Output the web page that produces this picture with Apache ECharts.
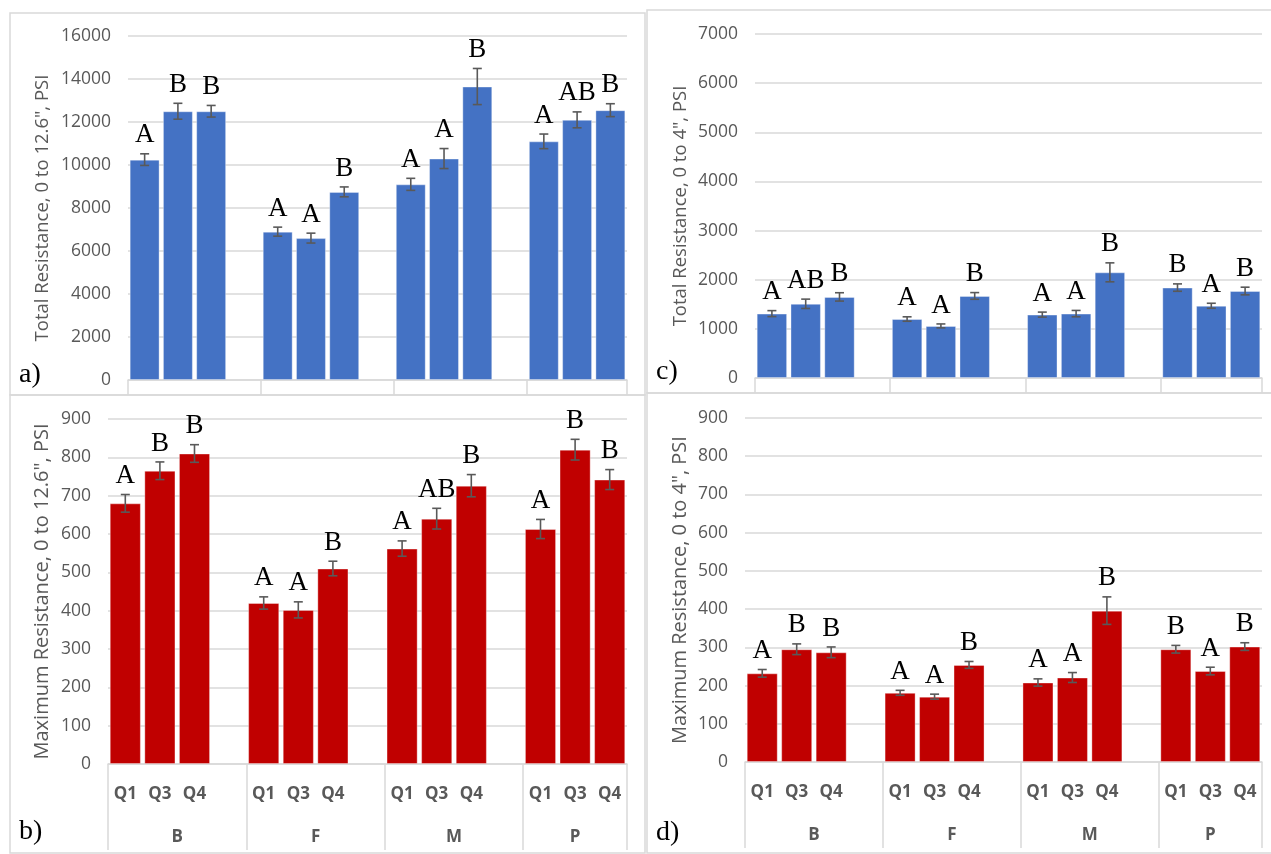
<!DOCTYPE html>
<html>
<head>
<meta charset="utf-8">
<script src="https://cdn.jsdelivr.net/npm/echarts@6/dist/echarts.min.js"></script>
<style>html,body{margin:0;padding:0;background:#fff}#main{width:1271px;height:854px}</style>
</head>
<body>
<div id="main"></div>
<script>
// categories
var groups = ['B', 'F', 'M', 'P'];
var quarters = ['Q1', 'Q3', 'Q4'];

// a) Total Resistance, 0 to 12.6"
var totalDeep = [10250, 12500, 12500, 6900, 6600, 8750, 9100, 10300, 13650, 11100, 12100, 12550];
var totalDeepErr = [270, 370, 270, 210, 230, 230, 280, 465, 840, 340, 370, 300];
var totalDeepLetters = ['A', 'B', 'B', 'A', 'A', 'B', 'A', 'A', 'B', 'A', 'AB', 'B'];
// b) Maximum Resistance, 0 to 12.6"
var maxDeep = [680, 765, 810, 420, 402, 510, 562, 640, 726, 613, 820, 742];
var maxDeepErr = [23, 23, 23, 16, 21, 19, 20, 27, 29, 25, 27, 26];
var maxDeepLetters = ['A', 'B', 'B', 'A', 'A', 'B', 'A', 'AB', 'B', 'A', 'B', 'B'];
// c) Total Resistance, 0 to 4"
var totalShallow = [1310, 1510, 1650, 1200, 1060, 1670, 1290, 1310, 2150, 1840, 1470, 1770];
var totalShallowErr = [61, 95, 85, 45, 40, 68, 51, 65, 193, 75, 51, 78];
var totalShallowLetters = ['A', 'AB', 'B', 'A', 'A', 'B', 'A', 'A', 'B', 'B', 'A', 'B'];
// d) Maximum Resistance, 0 to 4"
var maxShallow = [232, 295, 287, 181, 171, 254, 208, 221, 396, 295, 238, 302];
var maxShallowErr = [10, 14, 14, 6.5, 6.5, 9, 9.5, 13, 36, 10, 10, 10];
var maxShallowLetters = ['A', 'B', 'B', 'A', 'A', 'B', 'A', 'A', 'B', 'B', 'A', 'B'];

// 15 slots: 3 bars per group + one empty slot between groups (like the excel chart)
var slotLabels = [], slotOf = [], groupCenter = [], groupEdges = [0];
groups.forEach(function (g, gi) {
    var start = slotLabels.length;
    quarters.forEach(function (q) { slotOf.push(slotLabels.length); slotLabels.push(q); });
    if (gi < groups.length - 1) slotLabels.push('');
    groupCenter.push((start + slotLabels.length) / 2);
    groupEdges.push(slotLabels.length);
});
var nSlots = slotLabels.length;

var grey = '#595959', lineGrey = '#d9d9d9';

var panels = [
    { tag: 'a)', vals: totalDeep, err: totalDeepErr, letters: totalDeepLetters, max: 16000, step: 2000, color: '#4472C4',
      name: 'Total Resistance, 0 to 12.6", PSI', nameSize: 18.5, nameGap: 76, grid: { left: 128, right: 644, top: 36, bottom: 474 }, bottomRow: false },
    { tag: 'b)', vals: maxDeep, err: maxDeepErr, letters: maxDeepLetters, max: 900, step: 100, color: '#C00000',
      name: 'Maximum Resistance, 0 to 12.6", PSI', nameSize: 20, nameGap: 56, grid: { left: 108, right: 644, top: 419, bottom: 90 }, bottomRow: true },
    { tag: 'c)', vals: totalShallow, err: totalShallowErr, letters: totalShallowLetters, max: 7000, step: 1000, color: '#4472C4',
      name: 'Total Resistance, 0 to 4", PSI', nameSize: 18.5, nameGap: 65, grid: { left: 755, right: 9, top: 34, bottom: 476 }, bottomRow: false },
    { tag: 'd)', vals: maxShallow, err: maxShallowErr, letters: maxShallowLetters, max: 900, step: 100, color: '#C00000',
      name: 'Maximum Resistance, 0 to 4", PSI', nameSize: 20, nameGap: 55, grid: { left: 745, right: 9, top: 418, bottom: 92 }, bottomRow: true }
];

var grids = [], xAxes = [], yAxes = [], series = [];

panels.forEach(function (p, i) {
    grids.push(p.grid);
    var barData = slotLabels.map(function () { return '-'; });
    var errData = [];
    p.vals.forEach(function (v, k) {
        barData[slotOf[k]] = v;
        errData.push([slotOf[k], v, p.err[k]]);
    });
    // category axis: bars + Q labels
    xAxes.push({
        type: 'category', gridIndex: i, position: 'bottom', data: slotLabels,
        axisLine: { show: true, lineStyle: { color: lineGrey, width: 1.5 } },
        axisTick: { show: false },
        axisLabel: { show: p.bottomRow, interval: 0, margin: 22, color: grey, fontSize: 17, fontWeight: 'bold', fontFamily: 'Open Sans' }
    });
    // value axis: group labels + group separators
    xAxes.push({
        type: 'value', gridIndex: i, position: 'bottom', min: 0, max: nSlots,
        axisLine: { show: false },
        splitLine: { show: false },
        axisTick: { show: true, customValues: groupEdges, length: p.bottomRow ? 86 : 15, lineStyle: { color: lineGrey, width: 1.5 } },
        axisLabel: {
            show: p.bottomRow, customValues: groupCenter, margin: 65, color: grey, fontSize: 17, fontWeight: 'bold', fontFamily: 'Open Sans',
            formatter: function (v) { var k = groupCenter.indexOf(v); return k >= 0 ? groups[k] : ''; }
        }
    });
    yAxes.push({
        type: 'value', gridIndex: i, min: 0, max: p.max, interval: p.step,
        name: p.name, nameLocation: 'middle', nameRotate: 90, nameGap: p.nameGap, nameMoveOverlap: false,
        nameTextStyle: { color: grey, fontSize: p.nameSize, fontFamily: 'Open Sans' },
        axisLine: { show: false }, axisTick: { show: false },
        axisLabel: { color: grey, fontSize: 17.5, margin: 17, fontFamily: 'Open Sans', formatter: function (v) { return String(v); } },
        splitLine: { lineStyle: { color: lineGrey, width: 1.5 } }
    });
    series.push({
        type: 'bar', xAxisIndex: i * 2, yAxisIndex: i, data: barData,
        barCategoryGap: '10%',
        itemStyle: { color: p.color, borderColor: 'rgba(255,255,255,0.35)', borderWidth: 1 },
        silent: true
    });
    series.push({
        type: 'custom', xAxisIndex: i * 2, yAxisIndex: i, data: errData, silent: true, clip: false, z: 5,
        renderItem: function (params, api) {
            var x = api.value(0), v = api.value(1), e = api.value(2);
            var top = api.coord([x, v + e]), bot = api.coord([x, v - e]);
            var cap = 4.5, st = { stroke: grey, lineWidth: 1.6 };
            return {
                type: 'group', children: [
                    { type: 'line', shape: { x1: top[0], y1: top[1], x2: bot[0], y2: bot[1] }, style: st },
                    { type: 'line', shape: { x1: top[0] - cap, y1: top[1], x2: top[0] + cap, y2: top[1] }, style: st },
                    { type: 'line', shape: { x1: bot[0] - cap, y1: bot[1], x2: bot[0] + cap, y2: bot[1] }, style: st },
                    { type: 'text', style: { text: p.letters[params.dataIndex], x: top[0], y: top[1] - 5, align: 'center', verticalAlign: 'bottom',
                        font: '27px "Liberation Serif"', fill: '#000' } }
                ]
            };
        }
    });
});

var chart = echarts.init(document.getElementById('main'));
chart.setOption({
    animation: false,
    backgroundColor: '#fff',
    grid: grids,
    xAxis: xAxes,
    yAxis: yAxes,
    series: series,
    graphic: [
        { type: 'rect', shape: { x: 10, y: 13, width: 635, height: 382 }, style: { fill: 'none', stroke: lineGrey, lineWidth: 1.5 } },
        { type: 'rect', shape: { x: 10, y: 395, width: 635, height: 458 }, style: { fill: 'none', stroke: lineGrey, lineWidth: 1.5 } },
        { type: 'rect', shape: { x: 647, y: 10, width: 630, height: 383 }, style: { fill: 'none', stroke: lineGrey, lineWidth: 1.5 } },
        { type: 'rect', shape: { x: 647, y: 393, width: 630, height: 460 }, style: { fill: 'none', stroke: lineGrey, lineWidth: 1.5 } },
        { type: 'text', left: 19, top: 361, style: { text: 'a)', font: '28px "Liberation Serif"', fill: '#000' } },
        { type: 'text', left: 19, top: 818, style: { text: 'b)', font: '28px "Liberation Serif"', fill: '#000' } },
        { type: 'text', left: 656, top: 358, style: { text: 'c)', font: '28px "Liberation Serif"', fill: '#000' } },
        { type: 'text', left: 656, top: 819, style: { text: 'd)', font: '28px "Liberation Serif"', fill: '#000' } }
    ]
});
</script>
</body>
</html>
